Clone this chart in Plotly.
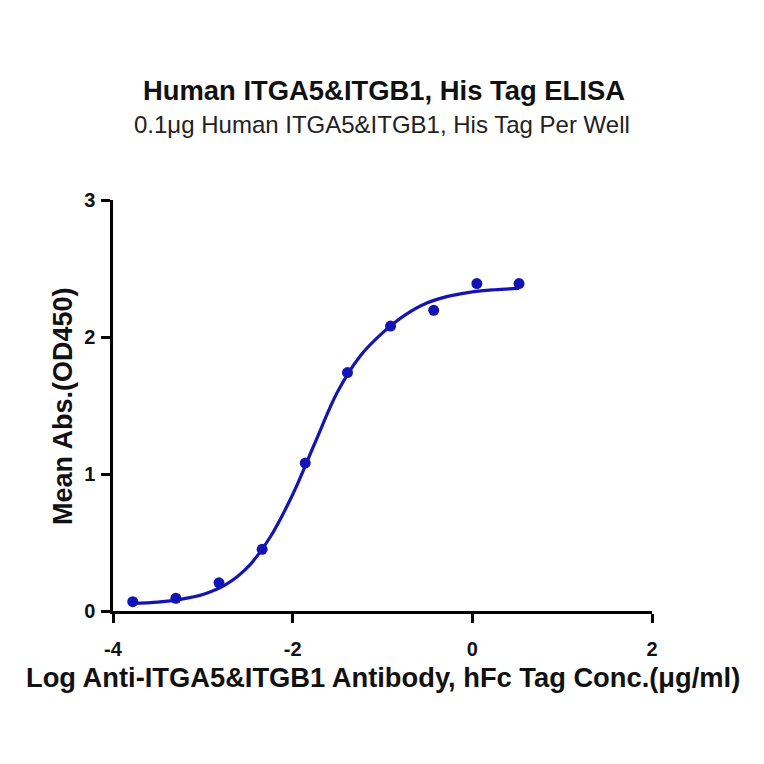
import plotly.graph_objects as go

# Data
log_conc = [-3.78, -3.30, -2.82, -2.34, -1.86, -1.39, -0.91, -0.43, 0.05, 0.52]
mean_abs = [0.068, 0.093, 0.206, 0.45, 1.08, 1.74, 2.08, 2.195, 2.39, 2.39]

# Fitted curve samples
curve_x = [-3.78, -3.5, -3.25, -3.0, -2.75, -2.5, -2.25, -2.0, -1.75, -1.5,
           -1.25, -1.0, -0.75, -0.5, -0.25, 0.0, 0.25, 0.52]
curve_y = [0.055, 0.065, 0.085, 0.12, 0.19, 0.32, 0.54, 0.85, 1.23, 1.60,
           1.86, 2.03, 2.16, 2.25, 2.30, 2.33, 2.345, 2.355]

x_ticks = [-4, -2, 0, 2]
y_ticks = [0, 1, 2, 3]

title = "Human ITGA5&ITGB1, His Tag ELISA"
subtitle = "0.1μg Human ITGA5&ITGB1, His Tag Per Well"
x_title = "Log Anti-ITGA5&ITGB1 Antibody, hFc Tag Conc.(μg/ml)"
y_title = "Mean Abs.(OD450)"

blue = "#1414b4"
font = "Liberation Sans, Arial, sans-serif"

# Plot area in page pixels (page has an 8px body margin)
OFF = 8
P_LEFT, P_RIGHT, P_TOP, P_BOTTOM = 113, 652, 200, 611
W = H = 764


def px(xpix):
    return (xpix - P_LEFT) / (P_RIGHT - P_LEFT)


def py(ypix):
    return (P_BOTTOM - ypix) / (P_BOTTOM - P_TOP)


fig = go.Figure()
fig.add_trace(go.Scatter(x=curve_x, y=curve_y, mode="lines",
                         line=dict(color=blue, width=3.2, shape="spline"),
                         hoverinfo="skip", showlegend=False))
fig.add_trace(go.Scatter(x=log_conc, y=mean_abs, mode="markers",
                         marker=dict(color=blue, size=11),
                         cliponaxis=False, showlegend=False))

tick_font = dict(family=font, size=20, color="#111111")
axis_common = dict(showline=True, linecolor="black", linewidth=2.5,
                   ticks="outside", ticklen=9, tickwidth=2.5, tickcolor="black",
                   showgrid=False, zeroline=False, mirror=False,
                   tickfont=tick_font)

fig.update_xaxes(range=[-4, 2], tickvals=x_ticks,
                 ticktext=[f"<b>{v}</b>" for v in x_ticks],
                 ticklabelstandoff=9, **axis_common)
fig.update_yaxes(range=[0, 3], tickvals=y_ticks,
                 ticktext=[f"<b>{v}</b>" for v in y_ticks],
                 ticklabelstandoff=2, **axis_common)

fig.add_annotation(text=f"<b>{title}</b>", x=px(384), y=py(90), xref="paper", yref="paper",
                   showarrow=False, xanchor="center", yanchor="middle",
                   font=dict(family=font, size=27.4, color="#111111"))
fig.add_annotation(text=subtitle, x=px(382), y=py(124), xref="paper", yref="paper",
                   showarrow=False, xanchor="center", yanchor="middle",
                   font=dict(family=font, size=24, color="#222222"))
fig.add_annotation(text=f"<b>{x_title}</b>", x=px(383), y=py(677), xref="paper", yref="paper",
                   showarrow=False, xanchor="center", yanchor="middle",
                   font=dict(family=font, size=27.3, color="#111111"))
fig.add_annotation(text=f"<b>{y_title}</b>", x=px(63), y=py(406), xref="paper", yref="paper",
                   showarrow=False, xanchor="center", yanchor="middle", textangle=-90,
                   font=dict(family=font, size=27, color="#111111"))

fig.update_layout(width=W, height=H, plot_bgcolor="white", paper_bgcolor="white",
                  margin=dict(l=P_LEFT - OFF, r=W - (P_RIGHT - OFF), t=P_TOP - OFF,
                              b=H - (P_BOTTOM - OFF), autoexpand=False),
                  showlegend=False)

fig.write_html("out.html")
